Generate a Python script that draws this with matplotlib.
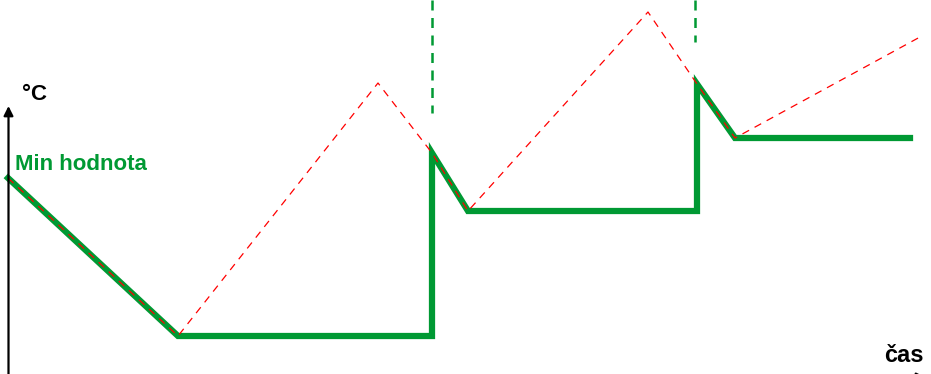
import matplotlib.pyplot as plt

plt.rcParams['font.family'] = ['Liberation Sans', 'DejaVu Sans']

# time (px from left) and temperature (px from top) of the schematic
t_min = [8, 178, 432, 432, 468, 697, 697, 735, 910]
temp_min = [178, 336, 336, 153, 211, 211, 84, 138, 138]

t_real = [8, 178, 378, 432, 468, 648, 697, 735, 920]
temp_real = [178, 336, 83, 153, 211, 12, 84, 138, 37]

# moments of the reset (vertical markers)
t_reset = [432, 695]
reset_top = [113, 42]

green = '#009933'

fig = plt.figure(figsize=(9.31, 3.74), dpi=100)
ax = fig.add_axes([0, 0, 1, 1])
ax.set_xlim(0, 931)
ax.set_ylim(374, 0)
ax.axis('off')

# axes arrows
ax.annotate('', xy=(8.5, 106), xytext=(8.5, 380),
            arrowprops=dict(arrowstyle='-|>', color='black', lw=1.6,
                            mutation_scale=14, shrinkA=0, shrinkB=0))
ax.annotate('', xy=(926, 377.5), xytext=(0, 377.5),
            arrowprops=dict(arrowstyle='-|>', color='black', lw=1.6,
                            mutation_scale=14, shrinkA=0, shrinkB=0),
            annotation_clip=False)

# reset markers
for t, top in zip(t_reset, reset_top):
    ax.plot([t, t], [0, top], color=green, lw=1.8, ls=(0, (4, 3)))

ax.plot(t_min, temp_min, color=green, lw=4.5, solid_joinstyle='miter')
ax.plot(t_real, temp_real, color='red', lw=0.9, ls=(0, (6, 5)))

ax.text(22, 100, '°C', fontsize=16, fontweight='bold', color='black')
ax.text(15, 170, 'Min hodnota', fontsize=16, fontweight='bold', color=green)
ax.text(884, 362, 'čas', fontsize=17, fontweight='bold', color='black')

fig.savefig('out.png', dpi=100)
